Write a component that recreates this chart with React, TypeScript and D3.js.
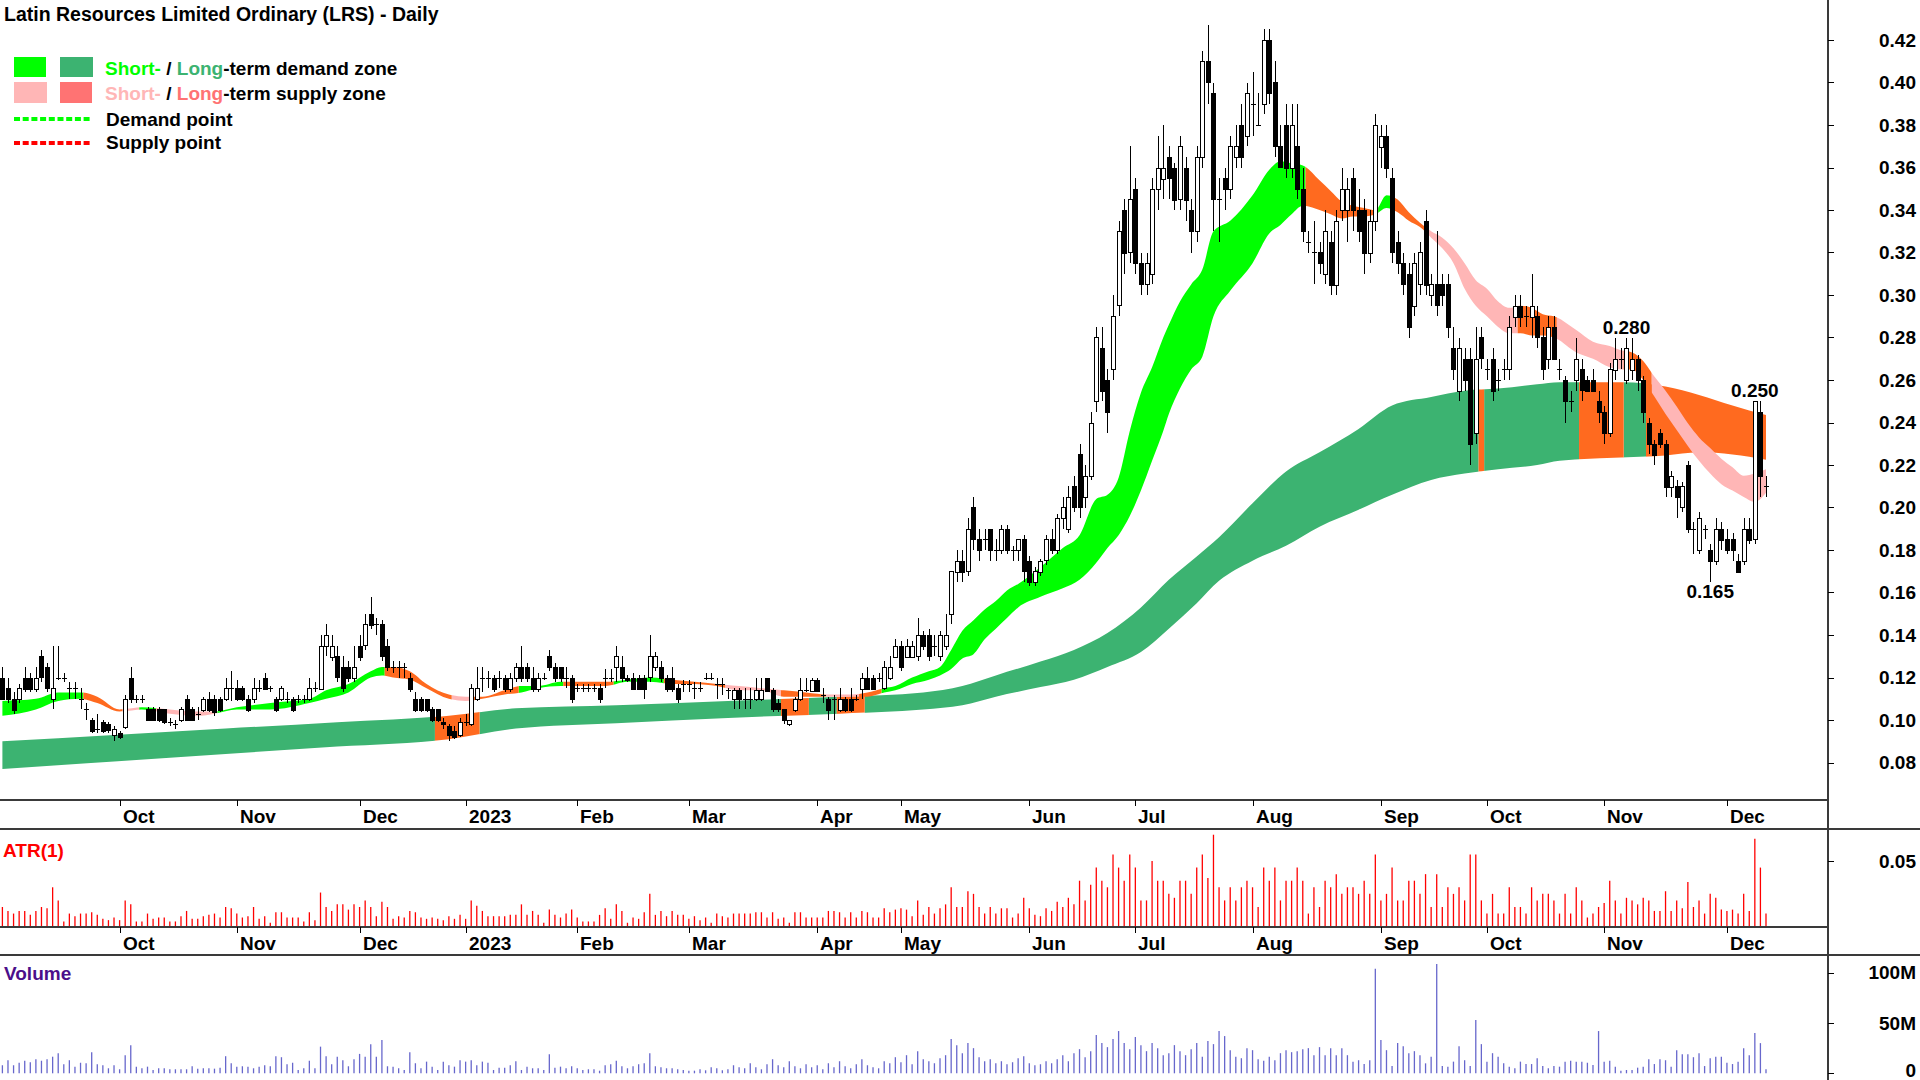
import React from "react";
import * as d3 from "d3";

// ---------------- DATA ----------------
const opens = [
  .120,.115,.110,.110,.120,.120,.115,.130,.125,.110,
  .120,.120,.115,.115,.110,.105,.100,.096,.099,.098,
  .093,.094,.097,.120,.110,.110,.105,.105,.105,.105,
  .099,.098,.100,.110,.105,.103,.105,.110,.110,.110,
  .110,.115,.115,.115,.110,.110,.115,.120,.115,.110,
  .110,.110,.110,.110,.110,.110,.115,.115,.135,.130,
  .130,.125,.125,.120,.135,.135,.150,.145,.145,.135,
  .125,.125,.125,.120,.110,.110,.110,.105,.105,.099,
  .097,.095,.093,.099,.098,.110,.120,.120,.120,.120,
  .120,.115,.120,.125,.125,.120,.115,.120,.130,.125,
  .125,.120,.120,.115,.115,.115,.115,.115,.120,.120,
  .125,.125,.120,.120,.120,.120,.120,.125,.125,.120,
  .120,.115,.117,.117,.115,.115,.120,.120,.117,.117,
  .114,.110,.114,.110,.110,.110,.110,.120,.114,.108,
  .105,.098,.105,.110,.114,.114,.119,.112,.110,.110,
  .105,.110,.110,.110,.115,.120,.120,.120,.115,.120,
  .130,.135,.130,.130,.130,.140,.140,.135,.130,.135,
  .150,.170,.175,.170,.200,.185,.185,.190,.180,.180,
  .190,.180,.180,.185,.175,.165,.170,.175,.185,.180,
  .195,.190,.210,.225,.205,.215,.250,.275,.260,.265,
  .295,.340,.320,.350,.315,.305,.310,.350,.355,.365,
  .360,.345,.360,.340,.330,.365,.410,.395,.345,.355,
  .350,.365,.380,.375,.390,.380,.390,.420,.400,.370,
  .380,.360,.370,.350,.325,.320,.320,.310,.325,.305,
  .340,.340,.355,.340,.340,.320,.335,.370,.375,.355,
  .325,.315,.310,.295,.305,.335,.300,.305,.305,.305,
  .275,.255,.270,.270,.235,.280,.265,.270,.260,.265,
  .265,.290,.295,.290,.290,.290,.280,.270,.285,.265,
  .260,.250,.260,.265,.260,.260,.250,.245,.235,.265,
  .270,.260,.265,.270,.260,.240,.230,.235,.230,.210,
  .210,.200,.220,.190,.180,.190,.180,.175,.190,.185,
  .185,.175,.175,.190,.185,.245,.210,
];
const highs = [
  .125,.120,.113,.117,.125,.122,.125,.133,.127,.135,
  .135,.122,.118,.118,.115,.108,.101,.103,.100,.099,
  .097,.095,.112,.125,.112,.112,.106,.106,.106,.105,
  .101,.100,.106,.112,.106,.106,.111,.113,.112,.111,
  .120,.123,.119,.116,.112,.120,.119,.122,.116,.111,
  .116,.113,.111,.112,.112,.120,.118,.140,.145,.140,
  .135,.130,.128,.135,.140,.150,.158,.148,.147,.138,
  .128,.128,.127,.122,.113,.111,.110,.106,.105,.101,
  .098,.097,.101,.103,.117,.125,.125,.123,.121,.123,
  .121,.122,.127,.135,.127,.125,.122,.122,.133,.127,
  .125,.125,.121,.117,.117,.117,.117,.117,.124,.124,
  .135,.130,.121,.122,.121,.121,.140,.132,.128,.121,
  .125,.117,.119,.119,.118,.118,.122,.122,.120,.120,
  .115,.115,.115,.115,.115,.120,.120,.120,.115,.110,
  .105,.100,.111,.120,.120,.120,.120,.115,.111,.112,
  .115,.111,.115,.112,.122,.125,.121,.122,.128,.130,
  .138,.137,.138,.137,.148,.142,.143,.140,.142,.150,
  .170,.180,.180,.195,.205,.190,.190,.190,.185,.192,
  .192,.182,.185,.187,.177,.172,.176,.187,.190,.197,
  .205,.210,.215,.230,.220,.245,.285,.285,.265,.300,
  .335,.345,.370,.355,.320,.320,.355,.375,.380,.370,
  .362,.375,.365,.345,.370,.415,.427,.400,.355,.360,
  .375,.380,.390,.400,.405,.395,.425,.425,.410,.380,
  .390,.390,.390,.360,.330,.335,.325,.340,.330,.340,
  .360,.355,.360,.350,.345,.340,.385,.380,.380,.360,
  .330,.320,.315,.320,.325,.340,.310,.330,.310,.310,
  .285,.280,.275,.275,.285,.285,.270,.275,.265,.270,
  .290,.300,.300,.295,.310,.295,.285,.290,.290,.270,
  .262,.255,.280,.270,.262,.265,.255,.248,.268,.280,
  .275,.280,.280,.272,.262,.242,.232,.237,.232,.217,
  .213,.212,.222,.193,.198,.192,.183,.195,.193,.190,
  .188,.178,.195,.195,.250,.250,.215,
];
const lows = [
  .110,.108,.103,.108,.113,.113,.113,.118,.113,.105,
  .119,.118,.110,.110,.105,.100,.094,.094,.094,.094,
  .090,.091,.096,.108,.108,.108,.100,.100,.099,.098,
  .097,.096,.099,.100,.100,.100,.104,.104,.102,.104,
  .109,.109,.109,.109,.104,.108,.113,.114,.113,.104,
  .109,.108,.104,.108,.108,.109,.113,.114,.130,.128,
  .118,.113,.118,.118,.128,.133,.143,.140,.128,.123,
  .122,.120,.120,.113,.104,.104,.104,.099,.099,.096,
  .090,.091,.092,.097,.097,.109,.113,.115,.113,.115,
  .113,.113,.118,.118,.118,.113,.113,.119,.123,.118,
  .118,.115,.108,.113,.113,.113,.113,.108,.115,.118,
  .118,.118,.118,.115,.115,.110,.118,.123,.118,.113,
  .113,.108,.113,.113,.110,.113,.119,.119,.110,.112,
  .110,.105,.105,.105,.105,.109,.109,.113,.104,.104,
  .098,.097,.104,.109,.113,.113,.113,.108,.100,.100,
  .104,.104,.104,.109,.110,.114,.114,.118,.114,.119,
  .129,.123,.129,.129,.128,.133,.128,.130,.128,.133,
  .145,.165,.165,.168,.180,.175,.180,.175,.175,.178,
  .178,.175,.175,.165,.163,.163,.168,.173,.178,.178,
  .190,.188,.198,.195,.200,.213,.245,.250,.235,.260,
  .290,.310,.315,.310,.300,.300,.305,.340,.345,.345,
  .340,.340,.335,.320,.325,.360,.390,.330,.325,.340,
  .345,.360,.360,.370,.375,.380,.385,.390,.365,.360,
  .355,.355,.345,.325,.320,.305,.310,.305,.300,.300,
  .335,.325,.330,.325,.310,.315,.330,.360,.355,.315,
  .310,.300,.280,.290,.300,.300,.295,.290,.295,.280,
  .260,.250,.255,.220,.230,.265,.260,.250,.255,.260,
  .260,.285,.285,.285,.280,.275,.260,.265,.270,.260,
  .240,.245,.255,.250,.255,.255,.240,.230,.233,.260,
  .265,.258,.260,.255,.240,.225,.220,.228,.205,.205,
  .195,.198,.188,.178,.178,.185,.165,.173,.180,.178,
  .175,.170,.173,.183,.183,.205,.205,
];
const closes = [
  .110,.110,.105,.115,.115,.115,.120,.120,.115,.115,
  .120,.120,.115,.115,.110,.105,.095,.096,.095,.095,
  .096,.092,.110,.110,.110,.110,.100,.100,.100,.099,
  .099,.098,.105,.100,.100,.103,.110,.105,.104,.105,
  .115,.115,.110,.110,.105,.115,.115,.115,.115,.105,
  .115,.110,.105,.110,.110,.115,.115,.135,.140,.135,
  .120,.115,.120,.125,.130,.145,.145,.145,.130,.125,
  .125,.125,.125,.115,.105,.105,.105,.100,.100,.098,
  .093,.092,.099,.099,.115,.115,.120,.120,.115,.120,
  .115,.120,.125,.120,.120,.115,.120,.120,.125,.120,
  .120,.120,.110,.115,.115,.115,.115,.110,.120,.120,
  .130,.120,.119,.115,.115,.115,.130,.130,.120,.115,
  .115,.110,.117,.117,.115,.115,.120,.120,.117,.117,
  .114,.114,.110,.110,.110,.114,.114,.114,.105,.105,
  .100,.100,.110,.114,.114,.119,.114,.112,.105,.110,
  .110,.105,.105,.110,.120,.115,.115,.120,.125,.125,
  .135,.125,.135,.135,.140,.135,.130,.135,.140,.140,
  .170,.175,.170,.190,.185,.180,.185,.180,.180,.190,
  .180,.180,.185,.170,.165,.170,.175,.185,.180,.195,
  .200,.205,.200,.200,.215,.240,.280,.255,.245,.290,
  .330,.320,.345,.315,.305,.315,.350,.360,.360,.355,
  .345,.370,.345,.330,.365,.410,.400,.345,.345,.350,
  .370,.370,.365,.395,.390,.380,.420,.395,.370,.360,
  .360,.380,.350,.330,.325,.320,.315,.330,.305,.335,
  .350,.350,.340,.330,.320,.335,.380,.375,.360,.320,
  .315,.305,.285,.315,.320,.305,.305,.295,.300,.285,
  .265,.275,.260,.230,.270,.270,.265,.255,.260,.265,
  .285,.295,.290,.290,.295,.280,.265,.285,.270,.265,
  .250,.250,.270,.255,.255,.255,.245,.235,.265,.270,
  .270,.275,.270,.260,.245,.230,.225,.230,.210,.215,
  .205,.210,.190,.190,.195,.190,.175,.190,.185,.180,
  .180,.170,.190,.185,.250,.215,.210,
];
// volume, millions of shares
const volumes = [
  8,13,8,10.5,12.5,11,14,12.5,14,16.5,
  20,9,13,6.6,10.5,10,21,9,8,5,
  8,4,18,28,6.6,5,6.6,3.3,5,5,
  4,4,4,4,7,4.6,5,5,4.6,5.6,
  17,10,6.6,7,6.6,5,6.6,8,7,17,
  16,9,10.5,3.3,5,12.5,5,26.5,17,9,
  16.5,13,7,14,19.3,16.5,29,16.5,33,7,
  6.6,5,3.3,21,10,5,11.6,6.6,3.3,11.6,
  8,6.6,13,11.6,13,8,11.6,10.5,3.3,5.6,
  5.6,8,12,3.3,6.6,5,5,3.3,19,5.6,
  6.6,5,7,5,3.3,4,4,2.6,8,9,
  12.5,7,5,7,9,10,20,7,6,5,
  5,4,3.3,2.6,2.6,4,3,6,5,3,
  4,8,6,5,10,6,4,9,14,8,
  6,12,7,5,9,6,8,4,10,6,
  12,7,5,9,14,8,6,5,12,10,
  16,11,18,9,22,14,12,10,15,18,
  34,28,20,30,25,16,12,14,10,12,
  9,11,15,17,10,8,9,12,10,14,
  18,12,20,24,16,22,38,30,26,34,
  42,30,24,36,28,22,30,25,18,20,
  28,22,18,24,30,16.5,32,29,42,37,
  23,16.5,15,25,23,14,12.5,16.5,13,20,
  23,21,22,24,25,18,26,18,25,18,
  25,18,11.6,13,9.2,13,104,33,23,7.2,
  30,27,20,22,18,9.9,16.5,108.7,7.2,6.6,
  11.6,27,13,7.2,53,29,11.6,20,16.5,9.9,
  6.6,4.9,11.6,9.2,9.2,15,7.2,4.9,7.2,6.6,
  11.6,12.5,11.6,11.6,10.5,8.2,42,11.6,12.5,6.6,
  2.6,3.3,3.3,5.6,6.6,14,9.2,14,13,6.6,
  23,19,19,16,20,7.2,15,16.5,16.5,10.5,
  9.2,11.6,25,18,40,30,4,
];

// short-term zone edges (bar index, upper, lower)
const shortIdx = [0,6,10,14,17,21,25,30,35,38,42,48,55,58,62,66,68,70,73,76,80,83,86,90,93,96,100,104,108,112,116,120,124,128,132,136,140,144,148,152,155,158,160,163,166,168,170,172,174,176,178,180,182,186,190,193,196,198,200,202,204,206,208,209,211,213,215,217,220,224,227,229,231,233,236,238,240,242,244,246,248,250,252,254,256,258,260,262,264,266,268,270,272,274,276,278,282,285,288,290,292,294,296,298,300,302,304,306,308,310,312,314,316];
const shortTop = [.109,.110,.113,.113,.111,.105,.106,.105,.104,.104,.106,.108,.110,.114,.117,.123,.125,.125,.123,.117,.112,.111,.111,.114,.116,.116,.118,.118,.118,.119,.120,.119,.118,.117,.116,.115,.114,.113,.112,.112,.113,.115,.116,.120,.123,.125,.133,.142,.147,.152,.156,.161,.164,.172,.181,.187,.204,.206,.214,.236,.254,.266,.280,.286,.297,.305,.312,.330,.335,.347,.359,.363,.362,.361,.354,.349,.344,.342,.341,.340,.347,.345,.339,.334,.330,.327,.322,.315,.307,.303,.297,.294,.295,.294,.291,.290,.2835,.278,.276,.274,.273,.269,.2616,.255,.2475,.2396,.233,.228,.223,.219,.215,.216,.218];
const shortBot = [.102,.105,.109,.110,.108,.104,.105,.103,.102,.103,.105,.105,.108,.110,.113,.120,.121,.120,.119,.115,.110,.109,.110,.112,.113,.115,.116,.116,.116,.118,.118,.117,.117,.116,.114,.114,.111,.111,.111,.111,.111,.113,.114,.117,.119,.121,.124,.129,.131,.138,.143,.148,.153,.158,.162,.166,.174,.181,.187,.196,.208,.222,.236,.244,.256,.265,.271,.290,.302,.315,.329,.333,.338,.342,.340,.338,.336,.337,.337,.338,.341,.339,.335,.332,.327,.322,.315,.303,.295,.290,.285,.282,.282,.281,.281,.280,.273,.270,.266,.265,.265,.260,.2522,.244,.2365,.229,.222,.216,.211,.208,.205,.2027,.207];

// long-term zone edges
const longIdx = [0,20,40,60,80,92,110,130,150,165,172,178,186,192,198,204,209,214,218,224,230,236,243,249,256,262,268,275,279,290,298,304,310,316];
const longTop = [.090,.093,.096,.099,.102,.1055,.107,.109,.111,.113,.116,.121,.1275,.133,.141,.153,.166,.177,.186,.202,.217,.226,.237,.248,.252,.255,.256,.258,.259,.259,.257,.253,.248,.2435];
const longBot = [.077,.0805,.084,.0875,.091,.096,.0985,.101,.103,.105,.107,.111,.1155,.119,.125,.132,.143,.155,.1655,.175,.182,.191,.199,.206,.213,.216,.218,.220,.222,.2235,.2245,.226,.225,.2225];

// zone state by bar range
const shortStates: [string, number, number][] = [
  ["demand",0,14],["mixed",15,21],["supply",22,24],["demand",25,27],["supply",28,38],
  ["demand",39,68],["mixed",69,80],["supply",81,84],["mixed",85,92],["demand",93,100],
  ["mixed",101,109],["demand",110,118],["mixed",119,129],["supply",130,139],["mixed",140,147],
  ["supply",148,153],["mixed",154,157],["demand",158,233],["mixed",234,246],["demand",247,249],
  ["mixed",250,255],["supply",256,271],["mixed",272,278],["supply",279,290],["mixed",291,295],
  ["supply",296,316],
];
const longStates: [string, number, number][] = [
  ["demand",0,77],["mixed",78,85],["demand",86,139],["mixed",140,144],["demand",145,149],
  ["mixed",150,154],["demand",155,264],["mixed",265,265],["demand",266,282],["mixed",283,290],
  ["demand",291,294],["mixed",295,316],
];

const priceTicks = [0.08,0.10,0.12,0.14,0.16,0.18,0.20,0.22,0.24,0.26,0.28,0.30,0.32,0.34,0.36,0.38,0.40,0.42];
const atrTicks = [0.05];
const volumeTicks = [0, 50, 100];

const annotations = [
  { i: 291, value: 0.28, side: "high", text: "0.280" },
  { i: 314, value: 0.25, side: "high", text: "0.250" },
  { i: 306, value: 0.165, side: "low", text: "0.165" },
];

const holidays = ["2022-09-22","2022-12-26","2022-12-27","2023-01-02","2023-01-26","2023-04-07","2023-04-10","2023-04-25","2023-06-12"];
const missingDays = ["2022-12-14","2023-04-18","2023-04-19","2023-06-20","2023-06-21","2023-09-13","2023-09-14","2023-10-18"];
const firstDay = "2022-09-01";
const lastDay = "2023-12-12";

// ---------------- helpers ----------------
function buildDates(): Date[] {
  const out: Date[] = [];
  const skip = new Set([...holidays, ...missingDays]);
  const d = new Date(firstDay + "T00:00:00Z");
  const end = new Date(lastDay + "T00:00:00Z");
  while (d <= end) {
    const wd = d.getUTCDay();
    const key = d.toISOString().slice(0, 10);
    if (wd !== 0 && wd !== 6 && !skip.has(key)) out.push(new Date(d));
    d.setUTCDate(d.getUTCDate() + 1);
  }
  return out;
}

const FONT = "'Liberation Sans', Arial, Helvetica, sans-serif";
const AXIS_X = 1828;
const C = {
  shortDemand: "#00FF00",
  longDemand: "#3CB371",
  shortSupply: "#FFB6B6",
  longSupply: "#FF7373",
  mixed: "#FF6A1F",
  atr: "#FF0000",
  vol: "#6767CC",
  line: "#3a3a3a",
};

export default function App() {
  const n = closes.length;
  const dates = buildDates();
  const step = 5.581;
  const x = d3.scaleLinear().domain([0, n - 1]).range([2.4, 2.4 + (n - 1) * step]);
  const y = d3.scaleLinear().domain([0.08, 0.42]).range([762.5, 40]);
  const yAtr = d3.scaleLinear().domain([0, 0.05]).range([926.7, 861]);
  const yVol = d3.scaleLinear().domain([0, 100]).range([1073.3, 972.7]);

  const tr = closes.map((c, i) => {
    const pc = i > 0 ? closes[i - 1] : opens[i];
    return Math.max(highs[i], pc) - Math.min(lows[i], pc);
  });

  const areaGen = d3
    .area<[number, number, number]>()
    .x((d) => x(d[0]))
    .y0((d) => y(d[2]))
    .y1((d) => y(d[1]))
    .curve(d3.curveMonotoneX);
  const shortPath = areaGen(shortIdx.map((i, k) => [i, shortTop[k], shortBot[k]])) || "";
  const longPath = areaGen(longIdx.map((i, k) => [i, longTop[k], longBot[k]])) || "";

  const clipRects = (runs: [string, number, number][], state: string) =>
    runs
      .filter((r) => r[0] === state)
      .map((r, k) => (
        <rect key={k} x={x(r[1]) - step / 2} y={0} width={(r[2] - r[1] + 1) * step} height={800} />
      ));

  const monthTicks = dates
    .map((d, i) => ({ d, i }))
    .filter(({ d, i }) => i > 0 && i < n && d.getUTCMonth() !== dates[i - 1].getUTCMonth())
    .map(({ d, i }) => ({
      i,
      label: d.getUTCMonth() === 0 ? String(d.getUTCFullYear()) : d3.utcFormat("%b")(d),
    }));

  const dateAxis = (y0: number, key: string) => (
    <g key={key}>
      {monthTicks.map((t) => {
        const tx = Math.round(x(t.i)) + 0.5;
        return (
          <g key={t.i}>
            <line x1={tx} x2={tx} y1={y0} y2={y0 + 6} stroke="#000" strokeWidth={1} />
            <text x={tx + 2.5} y={y0 + 23} fontSize={19} fontWeight="bold" fill="#000">
              {t.label}
            </text>
          </g>
        );
      })}
    </g>
  );

  const textStyle = { fontFamily: FONT, fontWeight: "bold" as const };

  return (
    <>
      <style>{`html,body{margin:0;padding:0;background:#fff;} svg{display:block;}`}</style>
      <svg width={1920} height={1080} style={{ fontFamily: FONT }}>
        <rect x={0} y={0} width={1920} height={1080} fill="#fff" />
        <defs>
          <clipPath id="pricePanel">
            <rect x={0} y={0} width={AXIS_X} height={800} />
          </clipPath>
          <clipPath id="sDemand">{clipRects(shortStates, "demand")}</clipPath>
          <clipPath id="sSupply">{clipRects(shortStates, "supply")}</clipPath>
          <clipPath id="sMixed">{clipRects(shortStates, "mixed")}</clipPath>
          <clipPath id="lDemand">{clipRects(longStates, "demand")}</clipPath>
          <clipPath id="lMixed">{clipRects(longStates, "mixed")}</clipPath>
        </defs>

        {/* zones */}
        <g clipPath="url(#pricePanel)">
          <g clipPath="url(#lDemand)">
            <path d={longPath} fill={C.longDemand} />
          </g>
          <g clipPath="url(#lMixed)">
            <path d={longPath} fill={C.mixed} />
          </g>
          <g clipPath="url(#sDemand)">
            <path d={shortPath} fill={C.shortDemand} />
          </g>
          <g clipPath="url(#sSupply)">
            <path d={shortPath} fill={C.shortSupply} />
          </g>
          <g clipPath="url(#sMixed)">
            <path d={shortPath} fill={C.mixed} />
          </g>

          {/* candles */}
          {closes.map((c, i) => {
            const o = opens[i];
            const cx = Math.round(x(i));
            const top = y(Math.max(o, c));
            const bot = y(Math.min(o, c));
            const up = c > o;
            const doji = Math.abs(c - o) < 1e-9;
            return (
              <g key={i} shapeRendering="crispEdges">
                <line x1={cx + 0.5} x2={cx + 0.5} y1={y(highs[i])} y2={y(lows[i])} stroke="#000" strokeWidth={1} />
                {doji ? (
                  <line x1={cx - 2} x2={cx + 3} y1={Math.round(top) + 0.5} y2={Math.round(top) + 0.5} stroke="#000" strokeWidth={1} />
                ) : (
                  <rect
                    x={cx - 1.5}
                    y={Math.round(top) + 0.5}
                    width={4}
                    height={Math.max(1, Math.round(bot - top))}
                    fill={up ? "#fff" : "#000"}
                    stroke="#000"
                    strokeWidth={1}
                  />
                )}
              </g>
            );
          })}

          {/* annotations */}
          {annotations.map((a, k) => (
            <text
              key={k}
              x={x(a.i)}
              y={a.side === "high" ? y(a.value) - 4 : y(a.value) + 16}
              textAnchor="middle"
              fontSize={19}
              {...textStyle}
              fill="#000"
            >
              {a.text}
            </text>
          ))}
        </g>

        {/* title & legend */}
        <text x={4} y={21} fontSize={19.5} {...textStyle} fill="#000">
          Latin Resources Limited Ordinary (LRS) - Daily
        </text>
        <rect x={14} y={57} width={32} height={20} fill={C.shortDemand} />
        <rect x={60} y={57} width={33} height={20} fill={C.longDemand} />
        <rect x={14} y={82} width={33} height={21} fill={C.shortSupply} />
        <rect x={60} y={82} width={32} height={21} fill={C.longSupply} />
        <text x={105} y={75} fontSize={19} {...textStyle} fill="#000">
          <tspan fill={C.shortDemand}>Short-</tspan>
          <tspan> / </tspan>
          <tspan fill={C.longDemand}>Long</tspan>
          <tspan>-term demand zone</tspan>
        </text>
        <text x={105} y={100} fontSize={19} {...textStyle} fill="#000">
          <tspan fill={C.shortSupply}>Short-</tspan>
          <tspan> / </tspan>
          <tspan fill={C.longSupply}>Long</tspan>
          <tspan>-term supply zone</tspan>
        </text>
        <line x1={14} x2={92} y1={119} y2={119} stroke="#00FF00" strokeWidth={4} strokeDasharray="6 2.7" />
        <line x1={14} x2={92} y1={143} y2={143} stroke="#FF0000" strokeWidth={4} strokeDasharray="6 2.7" />
        <text x={106} y={126} fontSize={19} {...textStyle} fill="#000">Demand point</text>
        <text x={106} y={149} fontSize={19} {...textStyle} fill="#000">Supply point</text>

        {/* ATR panel */}
        <g>
          {tr.map((v, i) => (
            <line key={i} x1={x(i)} x2={x(i)} y1={yAtr(0)} y2={yAtr(v)} stroke={C.atr} strokeWidth={1.3} />
          ))}
          <text x={3} y={857} fontSize={19} {...textStyle} fill={C.atr}>ATR(1)</text>
        </g>

        {/* Volume panel */}
        <g>
          {volumes.map((v, i) => (
            <line key={i} x1={x(i)} x2={x(i)} y1={yVol(0)} y2={yVol(v)} stroke={C.vol} strokeWidth={1.3} />
          ))}
          <text x={4} y={980} fontSize={19} {...textStyle} fill="#4B0F8A">Volume</text>
        </g>

        {/* frame lines */}
        <g stroke={C.line} strokeWidth={1.6} shapeRendering="crispEdges">
          <line x1={0} x2={AXIS_X} y1={800} y2={800} />
          <line x1={0} x2={1920} y1={829} y2={829} />
          <line x1={0} x2={AXIS_X} y1={927} y2={927} />
          <line x1={0} x2={1920} y1={955} y2={955} />
          <line x1={AXIS_X} x2={AXIS_X} y1={0} y2={1080} />
        </g>

        {/* date axes */}
        <g style={{ fontFamily: FONT }}>
          {dateAxis(800, "a1")}
          {dateAxis(927, "a2")}
        </g>

        {/* right axes */}
        <g {...textStyle}>
          {priceTicks.map((t) => (
            <g key={t}>
              <line x1={AXIS_X} x2={AXIS_X + 6} y1={Math.round(y(t)) + 0.5} y2={Math.round(y(t)) + 0.5} stroke="#000" />
              <text x={1916} y={y(t)} dy="0.35em" textAnchor="end" fontSize={19} fill="#000">
                {t.toFixed(2)}
              </text>
            </g>
          ))}
          {atrTicks.map((t) => (
            <g key={"atr" + t}>
              <line x1={AXIS_X} x2={AXIS_X + 6} y1={Math.round(yAtr(t)) + 0.5} y2={Math.round(yAtr(t)) + 0.5} stroke="#000" />
              <text x={1916} y={yAtr(t)} dy="0.35em" textAnchor="end" fontSize={19} fill="#000">
                {t.toFixed(2)}
              </text>
            </g>
          ))}
          {volumeTicks.map((t) => (
            <g key={"v" + t}>
              <line x1={AXIS_X} x2={AXIS_X + 6} y1={Math.round(yVol(t)) + 0.5} y2={Math.round(yVol(t)) + 0.5} stroke="#000" />
              <text x={1916} y={t === 0 ? 1077 : yVol(t)} dy={t === 0 ? 0 : "0.35em"} textAnchor="end" fontSize={19} fill="#000">
                {t === 0 ? "0" : t + "M"}
              </text>
            </g>
          ))}
        </g>
      </svg>
    </>
  );
}
